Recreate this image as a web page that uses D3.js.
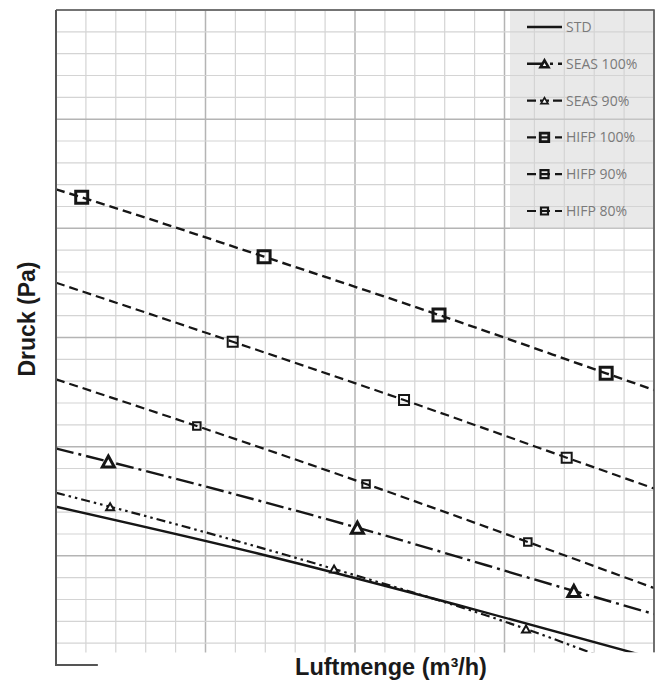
<!DOCTYPE html>
<html>
<head>
<meta charset="utf-8">
<script src="https://cdn.jsdelivr.net/npm/d3@7"></script>
<style>
  html, body { margin: 0; padding: 0; background: #fff; }
  svg { display: block; }
</style>
</head>
<body>
<svg id="chart" width="662" height="688"></svg>
<script>
// Fan pressure curves: pressure (Pa) against air flow (m³/h)
const flowDomain = [0, 2000];
const pressureDomain = [0, 600];
const flowMinorStep = 100, flowMajorStep = 500;
const pressureMinorStep = 20, pressureMajorStep = 100;

const seriesNames = ["STD", "SEAS 100%", "SEAS 90%", "HIFP 100%", "HIFP 90%", "HIFP 80%"];

// each curve runs across the frame; flagged points carry a marker
const stdFlow      = [0, 682, 1401, 2000];
const stdPressure  = [145, 101.7, 50.8, 6];
const stdMarked    = [0, 0, 0, 0];

const seas100Flow     = [0, 175, 1008, 1732, 2000];
const seas100Pressure = [198.3, 186.4, 125.8, 67.8, 46.7];
const seas100Marked   = [0, 1, 1, 1, 0];

const seas90Flow     = [0, 181, 930, 1572, 1800];
const seas90Pressure = [157.8, 145.0, 87.9, 33.0, 10];
const seas90Marked   = [0, 1, 1, 1, 0];

const hifp100Flow     = [0, 86, 696, 1281, 1840, 2000];
const hifp100Pressure = [435.7, 428.4, 374.0, 320.6, 267.2, 251.9];
const hifp100Marked   = [0, 1, 1, 1, 1, 0];

const hifp90Flow     = [0, 591, 1164, 1708, 2000];
const hifp90Pressure = [350.2, 296.1, 242.7, 189.9, 161.7];
const hifp90Marked   = [0, 1, 1, 1, 0];

const hifp80Flow     = [0, 471, 1037, 1578, 2000];
const hifp80Pressure = [261.7, 218.9, 165.8, 112.7, 70.5];
const hifp80Marked   = [0, 1, 1, 1, 0];

const xTitle = "Luftmenge (m³/h)";
const yTitle = "Druck (Pa)";

// ---- styles per series ----
const styles = {
  "STD":       { dash: null,                 width: 2.4, marker: null },
  "SEAS 100%": { dash: "18,5,3,5",           width: 2.4, marker: { shape: "tri", w: 12, h: 11, sw: 3,   lw: 8, lh: 7, lsw: 2.6 } },
  "SEAS 90%":  { dash: "9,4,2.5,4,2.5,4",    width: 2.2, marker: { shape: "tri", w: 8,  h: 7,  sw: 2,   lw: 7, lh: 6, lsw: 1.7 } },
  "HIFP 100%": { dash: "9,5",                width: 2.4, marker: { shape: "sq",  s: 12,        sw: 3,   ls: 8.5,      lsw: 2.8 } },
  "HIFP 90%":  { dash: "9,5",                width: 2.2, marker: { shape: "sq",  s: 10,        sw: 2,   ls: 8,        lsw: 2.2 } },
  "HIFP 80%":  { dash: "9,5",                width: 2.2, marker: { shape: "sq",  s: 7.5,       sw: 2,   ls: 7,        lsw: 2.2 } }
};

const series = [
  { name: "STD",       flow: stdFlow,     pressure: stdPressure,     marked: stdMarked },
  { name: "SEAS 100%", flow: seas100Flow, pressure: seas100Pressure, marked: seas100Marked },
  { name: "SEAS 90%",  flow: seas90Flow,  pressure: seas90Pressure,  marked: seas90Marked },
  { name: "HIFP 100%", flow: hifp100Flow, pressure: hifp100Pressure, marked: hifp100Marked },
  { name: "HIFP 90%",  flow: hifp90Flow,  pressure: hifp90Pressure,  marked: hifp90Marked },
  { name: "HIFP 80%",  flow: hifp80Flow,  pressure: hifp80Pressure,  marked: hifp80Marked }
].map(s => ({ ...s, points: s.flow.map((f, i) => ({ flow: f, pressure: s.pressure[i], marked: !!s.marked[i] })) }));

// ---- layout ----
const plot = { left: 56, right: 654, top: 10, bottom: 665, gridBottom: 652.5 };
const ink = "#161616";

const svg = d3.select("#chart");

const x = d3.scaleLinear().domain(flowDomain).range([plot.left, plot.right]);
const y = d3.scaleLinear().domain(pressureDomain).range([plot.bottom, plot.top]);

// ---- grid ----
const xMinor = d3.range(flowDomain[0], flowDomain[1] + 1e-9, flowMinorStep);
const yMinor = d3.range(pressureDomain[0], pressureDomain[1] + 1e-9, pressureMinorStep);
const isMajor = (v, step) => Math.abs(v / step - Math.round(v / step)) < 1e-6;

const grid = svg.append("g").attr("class", "grid");
grid.selectAll("line.vx").data(xMinor).join("line")
  .attr("class", "vx")
  .attr("x1", d => x(d)).attr("x2", d => x(d))
  .attr("y1", plot.top).attr("y2", plot.bottom)
  .attr("stroke", d => isMajor(d, flowMajorStep) ? "#b4b4b4" : "#d4d4d4")
  .attr("stroke-width", d => isMajor(d, flowMajorStep) ? 1.5 : 1.2);
grid.selectAll("line.hy").data(yMinor).join("line")
  .attr("class", "hy")
  .attr("x1", plot.left).attr("x2", plot.right)
  .attr("y1", d => y(d)).attr("y2", d => y(d))
  .attr("stroke", d => isMajor(d, pressureMajorStep) ? "#b4b4b4" : "#d4d4d4")
  .attr("stroke-width", d => isMajor(d, pressureMajorStep) ? 1.5 : 1.2);

// ---- legend backdrop ----
const legend = { x: 510, y: plot.top, w: plot.right - 510, h: 219, sampleX0: 527, sampleX1: 562, textX: 566, row0: 27, rowStep: 36.8 };
svg.append("rect")
  .attr("x", legend.x).attr("y", legend.y)
  .attr("width", legend.w).attr("height", legend.h)
  .attr("fill", "#d4d4d4").attr("fill-opacity", 0.5);

// ---- curves ----
svg.append("defs").append("clipPath").attr("id", "plot-clip")
  .append("rect")
  .attr("x", plot.left).attr("y", plot.top)
  .attr("width", plot.right - plot.left).attr("height", plot.gridBottom - plot.top);

const line = d3.line()
  .x(d => x(d.flow))
  .y(d => y(d.pressure))
  .curve(d3.curveMonotoneX);

const curves = svg.append("g").attr("clip-path", "url(#plot-clip)");
curves.selectAll("path.curve").data(series).join("path")
  .attr("class", "curve")
  .attr("d", d => line(d.points))
  .attr("fill", "none")
  .attr("stroke", ink)
  .attr("stroke-width", d => styles[d.name].width)
  .attr("stroke-dasharray", d => styles[d.name].dash);

function markerPath(m, legendSize) {
  if (m.shape === "sq") {
    const s = legendSize ? m.ls : m.s;
    const h = s / 2;
    return `M${-h},${-h}H${h}V${h}H${-h}Z`;
  }
  const w = legendSize ? m.lw : m.w, h = legendSize ? m.lh : m.h;
  return `M0,${-h / 2}L${w / 2},${h / 2}L${-w / 2},${h / 2}Z`;
}

series.forEach(s => {
  const m = styles[s.name].marker;
  if (!m) return;
  curves.selectAll(null).data(s.points.filter(p => p.marked)).join("path")
    .attr("transform", p => `translate(${x(p.flow)},${y(p.pressure)})`)
    .attr("d", markerPath(m, false))
    .attr("fill", m.shape === "tri" ? "#fff" : "none")
    .attr("stroke", ink)
    .attr("stroke-width", m.sw)
    .attr("stroke-linejoin", "miter");
});

// ---- legend entries ----
const lg = svg.append("g").attr("class", "legend");
series.forEach((s, i) => {
  const cy = legend.row0 + i * legend.rowStep;
  const st = styles[s.name];
  lg.append("line")
    .attr("x1", legend.sampleX0).attr("x2", legend.sampleX1)
    .attr("y1", cy).attr("y2", cy)
    .attr("stroke", ink).attr("stroke-width", st.width)
    .attr("stroke-dasharray", st.dash);
  if (st.marker) {
    lg.append("path")
      .attr("transform", `translate(${(legend.sampleX0 + legend.sampleX1) / 2},${cy})`)
      .attr("d", markerPath(st.marker, true))
      .attr("fill", st.marker.shape === "tri" ? "#fff" : "none")
      .attr("stroke", ink)
      .attr("stroke-width", st.marker.lsw);
  }
  lg.append("text")
    .attr("x", legend.textX).attr("y", cy)
    .attr("dy", "0.36em")
    .attr("font-family", "'Open Sans', sans-serif")
    .attr("font-size", 14)
    .attr("fill", "#7a7a7a")
    .text(s.name);
});

// ---- frame ----
svg.append("path")
  .attr("d", `M${plot.left},${plot.top}H${plot.right}V${plot.gridBottom}`)
  .attr("fill", "none").attr("stroke", "#5a5a5a").attr("stroke-width", 1.6);

// blank band under the plot area where the axis title sits
svg.append("rect")
  .attr("x", plot.left + 1).attr("y", plot.gridBottom)
  .attr("width", 662 - plot.left).attr("height", 688 - plot.gridBottom)
  .attr("fill", "#fff");

// left axis and the short stub of the bottom axis
svg.append("path")
  .attr("d", `M${plot.left},${plot.top}V${plot.bottom}H${x(flowMinorStep * 1.4)}`)
  .attr("fill", "none").attr("stroke", "#555").attr("stroke-width", 2);

// ---- axis titles ----
svg.append("text")
  .attr("x", 391).attr("y", 675)
  .attr("text-anchor", "middle")
  .attr("font-family", "'Liberation Sans', Arial, sans-serif")
  .attr("font-weight", "bold")
  .attr("font-size", 23.5)
  .attr("fill", "#1a1a1a")
  .text(xTitle);

svg.append("text")
  .attr("transform", "translate(35,319) rotate(-90)")
  .attr("text-anchor", "middle")
  .attr("font-family", "'Liberation Sans', Arial, sans-serif")
  .attr("font-weight", "bold")
  .attr("font-size", 23)
  .attr("fill", "#1a1a1a")
  .text(yTitle);
</script>
</body>
</html>
